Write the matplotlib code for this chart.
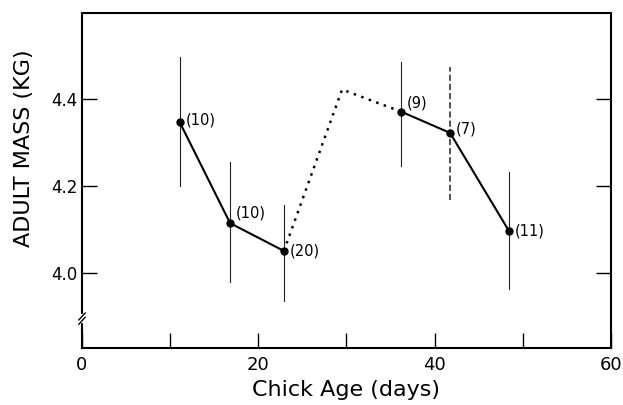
import matplotlib
matplotlib.use("Agg")
import matplotlib.pyplot as plt
from matplotlib.lines import Line2D

# Data
age = [11.1, 16.8, 22.9, 36.2, 41.75, 48.4]
mass = [4.347, 4.115, 4.051, 4.372, 4.323, 4.098]
err_low = [4.200, 3.979, 3.935, 4.247, 4.169, 3.963]
err_high = [4.498, 4.256, 4.158, 4.487, 4.475, 4.233]
n_labels = ["(10)", "(10)", "(20)", "(9)", "(7)", "(11)"]
# dotted connector (gap between groups)
dot_x = [22.9, 29.5, 36.2]
dot_y = [4.051, 4.423, 4.372]

xticks = [0, 10, 20, 30, 40, 50, 60]
xticklabels = ["0", "", "20", "", "40", "", "60"]
yticks = [4.0, 4.2, 4.4]
yticklabels = ["4.0", "4.2", "4.4"]

fig = plt.figure(figsize=(6.23, 4.05), dpi=100)
ax = fig.add_axes([0.1316, 0.1415, 0.8491, 0.8271])

ax.set_xlim(0, 60)
ax.set_ylim(3.828, 4.6)

# error bars
for i in range(len(age)):
    ls = (0, (4, 2)) if i == 4 else "-"
    lw = 1.1 if i == 4 else 0.8
    ax.plot([age[i], age[i]], [err_low[i], err_high[i]], color="#222222",
            lw=lw, linestyle=ls, zorder=2)

# solid segments
ax.plot(age[:3], mass[:3], color="black", lw=1.5, zorder=3)
ax.plot(age[3:], mass[3:], color="black", lw=1.5, zorder=3)
# dotted connector
ax.plot(dot_x, dot_y, color="black", lw=1.8, linestyle=(0, (1, 2.2)), zorder=3)
# points
ax.plot(age, mass, "o", color="black", ms=5, zorder=4)

label_offsets = [(4, 2), (4, 7), (4, 0), (4, 6), (4, 3), (4, 0)]
for x, y, t, off in zip(age, mass, n_labels, label_offsets):
    ax.annotate(t, (x, y), xytext=off, textcoords="offset points",
                ha="left", va="center", fontsize=10.5)

# spines
for s in ax.spines.values():
    s.set_linewidth(1.5)

ax.set_xticks(xticks)
ax.set_xticklabels(xticklabels)
ax.set_yticks(yticks)
ax.set_yticklabels(yticklabels)
ax.tick_params(axis="x", direction="in", length=11, width=1.0, labelsize=13, pad=6)
ax.tick_params(axis="y", direction="in", length=11, width=1.0, labelsize=12, pad=3,
               right=True)

ax.set_xlabel("Chick Age (days)", fontsize=16, labelpad=4)
ax.set_ylabel("ADULT MASS (KG)", fontsize=16)
ax.yaxis.set_label_coords(-0.09, 0.596)

# axis break mark on the left spine
yb = 3.895
ax.plot([0, 0], [yb - 0.006, yb + 0.006], color="white", lw=3,
        transform=ax.transData, clip_on=False, zorder=5)
trans = ax.get_yaxis_transform()
for dy in (-0.005, 0.005):
    ax.add_line(Line2D([-0.006, 0.006], [yb + dy - 0.008, yb + dy + 0.008],
                       color="black", lw=1.0, transform=trans, clip_on=False,
                       zorder=6))

fig.savefig("out.png", dpi=100)
